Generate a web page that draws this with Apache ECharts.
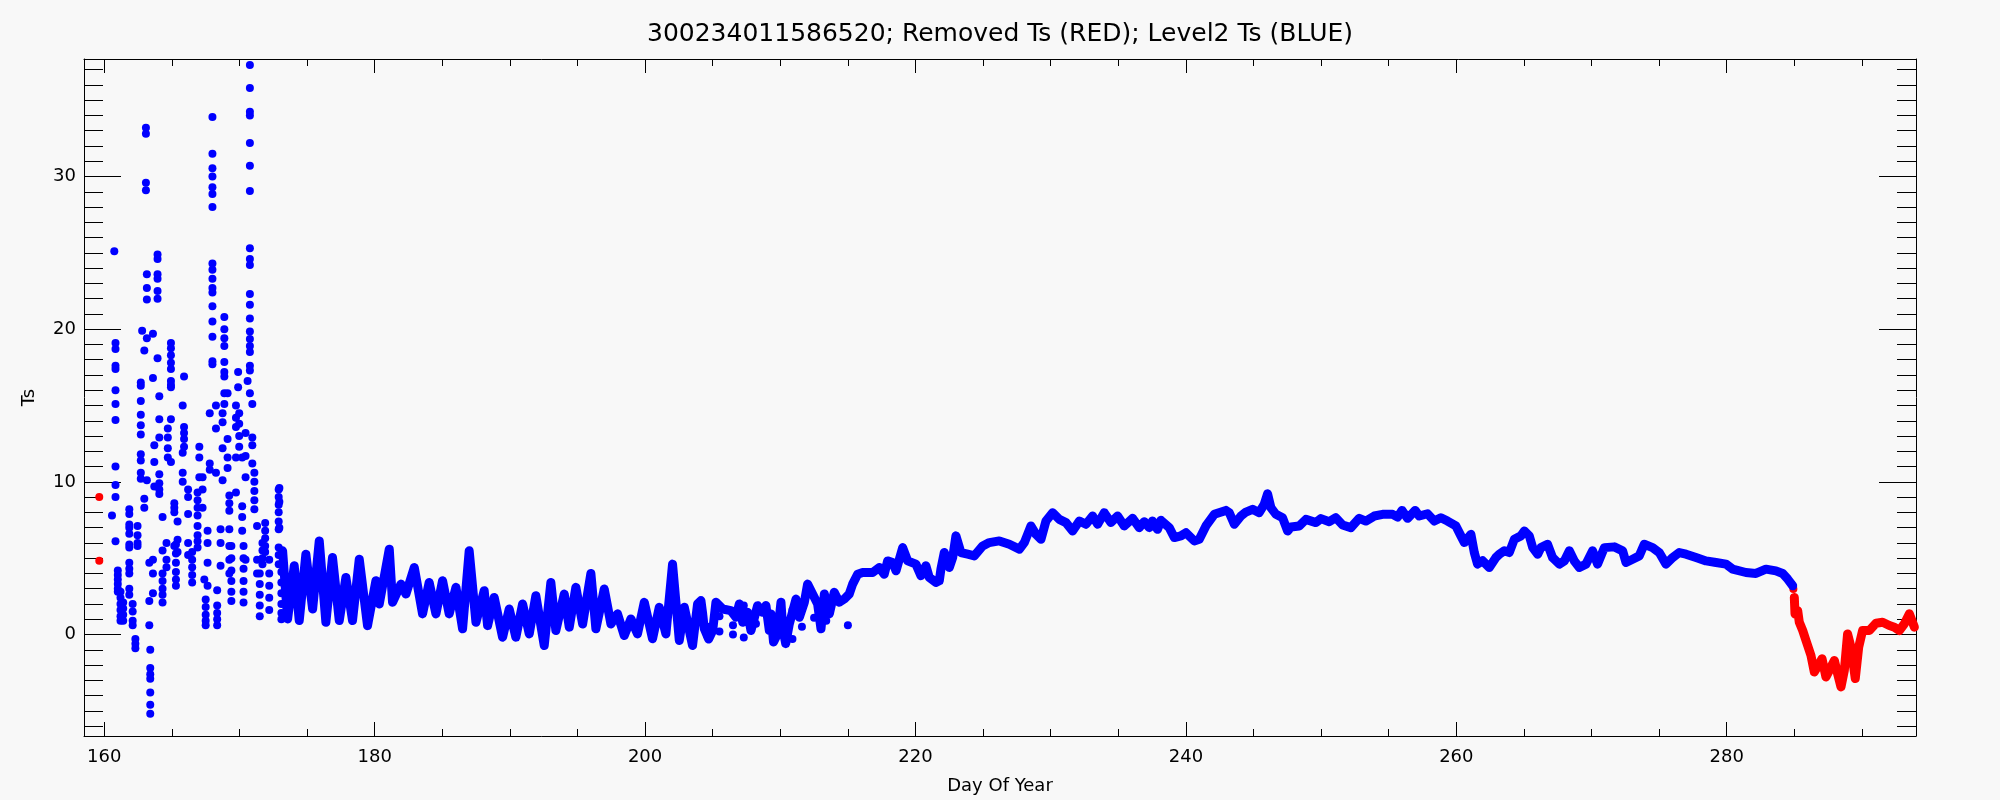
<!DOCTYPE html>
<html><head><meta charset="utf-8">
<script src="https://cdn.jsdelivr.net/npm/echarts@6/dist/echarts.min.js"></script>
<style>html,body{margin:0;padding:0;background:#f8f8f8}#c{width:2000px;height:800px}</style>
</head><body><div id="c"></div>
<script>
const titleText = '300234011586520; Removed Ts (RED); Level2 Ts (BLUE)';
const xName = 'Day Of Year';
const yName = 'Ts';
const xMin = 158.5, xMax = 294;
const yMin = -6.65, yMax = 37.7;
const xMajorTicks = [160,180,200,220,240,260,280];
const xMinorTicks = [165,170,175,185,190,195,205,210,215,225,230,235,245,250,255,265,270,275,285,290];
const yMajorTicks = [0,10,20,30];
const yMinorTicks = [-6,-5,-4,-3,-2,-1,1,2,3,4,5,6,7,8,9,11,12,13,14,15,16,17,18,19,21,22,23,24,25,26,27,28,29,31,32,33,34,35,36,37];

// Blue (Level2) isolated dots: [day, [Ts values in that column]]
const blueDotCols = [
 [160.57,[7.8]],
 [160.74,[25.1]],
 [160.83,[19.1,18.7,17.6,17.4,16.0,15.1,14.05,11.0,9.8,9.0,6.1]],
 [161.0,[4.2,3.9,3.6,3.3,3.0,2.8]],
 [161.2,[2.8,2.4,2.0,1.6,1.2,0.9]],
 [161.4,[2.1,1.7,1.3,0.9]],
 [161.85,[8.2,7.9,7.2,7.0,6.6,5.9,5.7,4.7,4.3,4.0,3.0,2.6]],
 [162.1,[2.0,1.5,0.9,0.6]],
 [162.3,[-0.3,-0.6,-0.9]],
 [162.46,[7.1,6.5,6.0,5.8]],
 [162.7,[16.5,16.3,15.3,14.4,13.7,13.1,11.8,11.4,10.6,10.2]],
 [162.8,[19.9]],
 [162.96,[18.6,8.9,8.3]],
 [163.08,[33.2,32.8,29.6,29.1]],
 [163.15,[23.6,22.7,21.95,19.4,10.1]],
 [163.33,[4.7,2.2,0.6]],
 [163.4,[-1.0,-2.2,-2.6,-2.9,-3.8,-4.6,-5.2]],
 [163.6,[19.7,16.8,4.9,4.0,2.7]],
 [163.7,[12.4,11.3,9.7]],
 [163.94,[24.9,24.6,23.6,23.3,22.5,22.0,18.1]],
 [164.07,[15.6,14.1,12.9,10.5,9.9,9.5,9.2]],
 [164.31,[7.7,5.5,4.0,3.5,3.0,2.6,2.1]],
 [164.6,[6.0,4.9,4.4]],
 [164.7,[13.5,12.9,12.2,11.6]],
 [164.93,[19.1,18.75,18.3,17.8,17.4,16.6,16.35,16.2,14.1,11.3]],
 [165.18,[8.6,8.3,8.0,5.8]],
 [165.3,[5.9,5.3,4.7,4.1,3.6,3.2]],
 [165.42,[7.4,6.2,5.4]],
 [165.8,[15.0,11.9,10.6,10.0]],
 [165.9,[16.9,13.6,13.2,12.8,12.3]],
 [166.2,[9.5,9.0,7.9,6.0,5.2]],
 [166.5,[5.4,4.9,4.4,3.9,3.4]],
 [166.9,[9.3,8.8,8.3,7.8,7.1,6.5,6.1,5.7]],
 [167.03,[12.3,11.6,10.3]],
 [167.27,[10.3,9.5,8.3]],
 [167.4,[3.6]],
 [167.5,[2.3,1.8,1.3,0.9,0.6]],
 [167.64,[6.8,6.0,4.7,3.2]],
 [167.8,[14.5,11.2,10.8]],
 [168.0,[33.9,31.5,30.55,30.0,29.3,28.85,28.0,24.3,23.9,23.3,22.7,22.4,21.5,20.5,19.5,17.9,17.7]],
 [168.26,[15.0,13.5,10.6]],
 [168.35,[2.9,1.9,1.4,1.0,0.6]],
 [168.6,[6.9,6.0,4.5]],
 [168.75,[14.5,13.9,12.2,10.1]],
 [168.88,[20.8,20.0,19.4,18.9,17.85,17.2,16.9,15.8,15.1]],
 [169.12,[15.8,12.8,11.6,10.9]],
 [169.25,[9.1,8.6,8.1,6.9,5.8,4.9,4.0]],
 [169.4,[5.8,5.0,4.2,3.5,2.8,2.2]],
 [169.74,[15.0,14.2,13.6,11.6,9.3]],
 [169.9,[17.2,16.2]],
 [169.98,[14.5,13.8,13.0,12.3]],
 [170.2,[11.6,8.4,7.7,6.8]],
 [170.3,[5.8,5.0,4.3,3.5,2.8,2.1]],
 [170.45,[13.2,11.7,10.3,4.9]],
 [170.6,[16.6]],
 [170.77,[37.3,35.8,34.25,34.0,32.2,30.7,29.05,25.3,24.6,24.2,22.3,21.6,20.7,19.85,19.35,18.9,18.5,17.6,17.3,15.8]],
 [170.95,[15.1,12.9,12.4,11.2]],
 [171.1,[10.6,10.0,9.4,8.8,8.2]],
 [171.3,[7.1,4.9,4.0]],
 [171.5,[4.0,3.3,2.6,1.9,1.2]],
 [171.7,[6.0,5.5,5.0,4.6]],
 [171.9,[7.3,6.8,6.3,5.8,5.4]],
 [172.2,[4.9,4.0,3.2,2.4,1.6]],
 [172.9,[9.5,9.0,8.5,8.0,7.4,6.9,5.7,5.2,4.6]],
 [172.95,[9.6,8.7,7.0]],
 [173.1,[4.1,3.4,2.7,2.0,1.4,1.0]],
 [204.6,[0.5,-0.1]],
 [205.5,[1.2,0.2]],
 [206.5,[0.6,0.0]],
 [207.3,[1.9,-0.2]],
 [208.2,[0.7]],
 [209.6,[1.0]],
 [210.9,[1.6,-0.3]],
 [211.6,[0.5]],
 [212.5,[1.1]],
 [213.4,[0.9]],
 [215.0,[0.6]]
];

// Blue (Level2) continuous record, [day, Ts]
const blueSegA = [
 [173.19,5.48],[173.56,1.02],[174.05,4.5],[174.42,0.91],[174.91,5.26],[175.41,1.67],[175.9,6.13],[176.39,0.8],
 [176.88,5.04],[177.38,0.91],[177.87,3.74],[178.36,0.91],[178.86,4.93],[179.47,0.58],[180.09,3.52],[180.34,2.0],
 [181.08,5.59],[181.32,2.11],[181.94,3.3],[182.31,2.65],[182.93,4.39],[183.54,1.35],[184.03,3.41],[184.53,1.35],
 [185.02,3.52],[185.51,1.35],[186.01,3.09],[186.5,0.37],[186.99,5.48],[187.49,0.8],[188.1,2.87],[188.35,0.58],
 [188.84,2.43],[189.46,-0.18],[189.95,1.67],[190.44,-0.18],[190.94,2.0],[191.43,0.04],[191.92,2.54],[192.54,-0.72],
 [193.03,3.41],[193.4,0.26],[194.02,2.65],[194.39,0.48],[194.88,3.09],[195.38,0.69],[195.99,4.0],[196.36,0.37],
 [196.98,2.98],[197.47,0.69],[197.96,1.35],[198.46,-0.07],[198.95,1.02],[199.44,0.04],[199.94,2.11],[200.55,-0.28],
 [201.05,1.78],[201.54,0.04],[202.03,4.61],[202.53,-0.39],[202.9,1.78],[203.51,-0.72],[203.88,2.0]
];
const blueSegB = [
 [204.13,2.22],[204.26,1.35],[204.38,0.37],[204.7,-0.3],[205.0,0.26],[205.24,2.11],[205.74,1.67],[206.35,1.56],
 [206.72,1.13],[206.97,2.0],[207.22,0.8],[207.58,1.45],[207.83,0.26],[208.32,1.89],[208.69,1.45],[208.94,1.89],
 [209.19,0.26],[209.31,1.35],[209.5,-0.5],[209.8,0.04],[210.05,2.11],[210.17,0.48],[210.4,-0.6],[210.67,0.7],
 [211.16,2.32],[211.41,1.13],[211.78,2.11],[212.02,3.3],[212.39,2.65],[212.76,2.0],[213.01,0.37],[213.26,2.65],
 [213.63,1.35],[213.99,2.76],[214.36,2.11],[214.73,2.32]
];
const blueSegC = [
 [215.1,2.65],[215.35,3.3],[215.72,3.95],[216.09,4.06],[216.83,4.06],[217.32,4.39],[217.69,3.95],[217.94,4.82],
 [218.31,4.72],[218.56,4.17],[219.05,5.69],[219.42,4.82],[220.03,4.61],[220.4,3.85],[220.77,4.5],[221.02,3.74],
 [221.51,3.41],[221.76,3.52],[221.88,4.28],[222.13,5.37],[222.5,4.39],[222.75,5.04],[222.99,6.46],[223.36,5.37],
 [223.86,5.26],[224.35,5.15],[224.97,5.8],[225.46,6.02],[226.2,6.13],[226.94,5.91],[227.68,5.59],[228.05,6.02],
 [228.54,7.11],[228.91,6.56],[229.28,6.24],[229.65,7.43],[230.14,7.98],[230.64,7.54],[231.13,7.33],[231.62,6.78],
 [232.12,7.43],[232.61,7.22],[233.1,7.76],[233.47,7.22],[233.96,7.98],[234.45,7.33],[234.95,7.76],[235.44,7.11],
 [236.06,7.61],[236.55,7.0],[236.92,7.39],[237.29,7.0],[237.53,7.43],[237.9,6.89],[238.15,7.48],[238.77,7.0],
 [239.14,6.35],[239.63,6.46],[240.0,6.67],[240.62,6.13],[240.99,6.24],[241.48,7.11],[242.1,7.87],[242.96,8.13],
 [243.21,7.98],[243.58,7.22],[244.07,7.76],[244.44,8.02],[244.93,8.2],[245.42,7.98],[245.79,8.52],[246.04,9.22],
 [246.29,8.3],[246.66,7.87],[247.15,7.65],[247.52,6.78],[247.77,7.04],[248.38,7.11],[248.88,7.54],[249.62,7.33],
 [249.99,7.59],[250.6,7.39],[251.09,7.65],[251.59,7.17],[252.2,7.0],[252.82,7.61],[253.31,7.43],[253.93,7.76],
 [254.55,7.87],[255.29,7.87],[255.66,7.69],[255.98,8.13],[256.4,7.61],[256.96,8.13],[257.26,7.76],[257.87,7.91],
 [258.37,7.43],[258.86,7.65],[259.35,7.43],[259.97,7.11],[260.34,6.46],[260.59,6.02],[261.08,6.56],[261.33,5.37],
 [261.57,4.61],[261.94,4.83],[262.44,4.39],[262.93,5.04],[263.18,5.26],[263.55,5.48],[263.92,5.37],[264.29,6.24],
 [264.78,6.46],[265.03,6.78],[265.4,6.46],[265.65,5.69],[266.02,5.26],[266.26,5.69],[266.75,5.91],[267.12,5.04],
 [267.62,4.61],[267.99,4.82],[268.36,5.48],[268.73,4.82],[269.1,4.39],[269.59,4.61],[270.08,5.48],[270.45,4.61],
 [270.95,5.69],[271.69,5.74],[272.3,5.48],[272.55,4.72],[273.04,4.93],[273.53,5.15],[273.9,5.91],[274.52,5.69],
 [275.01,5.37],[275.51,4.61],[276.0,5.04],[276.49,5.37],[276.99,5.26],[277.73,5.04],[278.47,4.82],[279.21,4.72],
 [279.95,4.61],[280.44,4.28],[281.42,4.06],[282.16,4.0],[282.9,4.28],[283.64,4.17],[284.14,4.0],[284.51,3.63],
 [284.88,3.19]
];

// Red (removed) values
const redDots = [[159.63,9.0],[159.63,4.83],[284.93,2.98]];
const redSeg = [
 [285.0,2.43],[285.05,1.35],[285.25,1.56],[285.37,0.8],[285.62,0.26],[285.86,-0.39],[286.23,-1.37],[286.48,-2.46],
 [286.85,-1.91],[287.05,-1.59],[287.34,-2.79],[287.59,-2.35],[287.96,-1.7],[288.2,-2.57],[288.45,-3.44],[288.7,-2.35],
 [288.94,0.04],[289.19,-0.83],[289.51,-2.89],[289.76,-0.83],[290.05,0.26],[290.55,0.26],[291.04,0.74],[291.53,0.8],
 [292.03,0.59],[292.4,0.48],[292.77,0.26],[293.14,0.7],[293.51,1.35],[293.88,0.48]
];

const blueDots = [];
blueDotCols.forEach(function(c){ c[1].forEach(function(v){ blueDots.push([c[0], v]); }); });
const blueLine = blueSegA.concat(blueSegB, blueSegC);

const FONT = 'DejaVu Sans';
const BLUE = '#0000ff', RED = '#ff0000';

function xAx(pos, ticks, len, withLine, withLabel){
  return {
    type:'value', min:xMin, max:xMax, position:pos, gridIndex:0,
    axisLine:{show:withLine, onZero:false, lineStyle:{color:'#000', width:1}},
    axisTick:{show:true, inside:true, length:len, customValues:ticks, lineStyle:{color:'#000', width:1}},
    axisLabel:{show:withLabel, customValues:ticks, margin:12, color:'#000', fontSize:18, fontFamily:FONT},
    splitLine:{show:false}
  };
}
function yAx(pos, ticks, len, withLine, withLabel){
  return {
    type:'value', min:yMin, max:yMax, position:pos, gridIndex:0,
    axisLine:{show:withLine, onZero:false, lineStyle:{color:'#000', width:1}},
    axisTick:{show:true, inside:true, length:len, customValues:ticks, lineStyle:{color:'#000', width:1}},
    axisLabel:{show:withLabel, customValues:ticks, margin:8, color:'#000', fontSize:18, fontFamily:FONT},
    splitLine:{show:false}
  };
}

const xa0 = xAx('bottom', xMajorTicks, 14, true, true);
xa0.name = xName; xa0.nameLocation = 'middle'; xa0.nameGap = 41;
xa0.nameTextStyle = {color:'#000', fontSize:18, fontFamily:FONT};
const ya0 = yAx('left', yMajorTicks, 37, true, true);
ya0.name = yName; ya0.nameLocation = 'middle'; ya0.nameGap = 46; ya0.nameRotate = 90;
ya0.nameTextStyle = {color:'#000', fontSize:18, fontFamily:FONT};

const chart = echarts.init(document.getElementById('c'), null, {renderer:'canvas'});
chart.setOption({
  backgroundColor:'#f8f8f8',
  animation:false,
  title:{text:titleText, left:'center', top:22, padding:0,
    textStyle:{fontFamily:FONT, fontSize:25, fontWeight:'normal', color:'#000'}},
  grid:{left:84, right:84, top:59, bottom:61, containLabel:false},
  xAxis:[
    xa0,
    xAx('bottom', xMinorTicks, 7, false, false),
    xAx('top', xMajorTicks, 14, true, false),
    xAx('top', xMinorTicks, 7, false, false)
  ],
  yAxis:[
    ya0,
    yAx('left', yMinorTicks, 19, false, false),
    yAx('right', yMajorTicks, 37, true, false),
    yAx('right', yMinorTicks, 19, false, false)
  ],
  series:[
    {type:'line', data:blueLine, xAxisIndex:0, yAxisIndex:0, showSymbol:false, symbol:'none', clip:true,
     lineStyle:{color:BLUE, width:9, cap:'round', join:'round', opacity:1}, silent:true},
    {type:'scatter', data:blueDots, xAxisIndex:0, yAxisIndex:0, symbol:'circle', symbolSize:8, clip:true,
     itemStyle:{color:BLUE, opacity:1}, silent:true},
    {type:'line', data:redSeg, xAxisIndex:0, yAxisIndex:0, showSymbol:false, symbol:'none', clip:true,
     lineStyle:{color:RED, width:9, cap:'round', join:'round', opacity:1}, silent:true},
    {type:'scatter', data:redDots, xAxisIndex:0, yAxisIndex:0, symbol:'circle', symbolSize:8, clip:true,
     itemStyle:{color:RED, opacity:1}, silent:true}
  ]
});
</script>
</body></html>
